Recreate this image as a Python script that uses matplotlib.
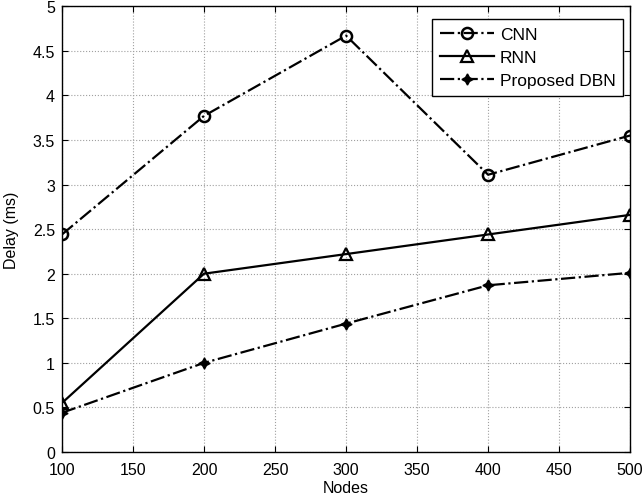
import numpy as np
import matplotlib
matplotlib.use("Agg")
import matplotlib.pyplot as plt

plt.rcParams['font.family'] = ['Liberation Sans', 'DejaVu Sans']

# data
nodes = [100, 200, 300, 400, 500]
cnn = [2.44, 3.77, 4.67, 3.11, 3.55]
rnn = [0.55, 2.00, 2.22, 2.44, 2.66]
dbn = [0.44, 1.00, 1.44, 1.87, 2.01]

fig = plt.figure(figsize=(6.43, 5.02), dpi=100)
ax = fig.add_axes([0.0964, 0.0976, 0.8836, 0.888])

ax.plot(nodes, cnn, color='black', linestyle='-.', linewidth=1.6, marker='o',
        markersize=8, markerfacecolor='none', markeredgewidth=1.8, label='CNN')
ax.plot(nodes, rnn, color='black', linestyle='-', linewidth=1.6, marker='^',
        markersize=9, markerfacecolor='none', markeredgewidth=1.6, label='RNN')
ax.plot(nodes, dbn, color='black', linestyle='-.', linewidth=1.6, marker=(4, 1, 0),
        markersize=8, label='Proposed DBN')

ax.set_xlim(100, 500)
ax.set_ylim(0, 5)
ax.set_xticks(np.arange(100, 501, 50))
ax.set_yticks(np.arange(0, 5.01, 0.5))
ax.set_yticklabels(['0', '0.5', '1', '1.5', '2', '2.5', '3', '3.5', '4', '4.5', '5'])
ax.grid(True, color='#a0a0a0', linestyle=':', linewidth=0.8)
ax.tick_params(direction='in', top=True, right=True, labelsize=11.5, length=4, pad=5)
ax.tick_params(axis='x', pad=7)
for s in ax.spines.values():
    s.set_linewidth(1.0)
ax.set_xlabel('Nodes', fontsize=11.5, labelpad=2)
ax.set_ylabel('Delay (ms)', fontsize=11.5, labelpad=10)

leg = ax.legend(loc='upper right', bbox_to_anchor=(0.988, 0.971), fontsize=12.5,
                fancybox=False, framealpha=1, edgecolor='black', handlelength=3.1,
                borderaxespad=0, labelspacing=0.45, handletextpad=0.35,
                borderpad=0.45)
leg.get_frame().set_linewidth(1.0)

fig.savefig('out.png', dpi=100)
